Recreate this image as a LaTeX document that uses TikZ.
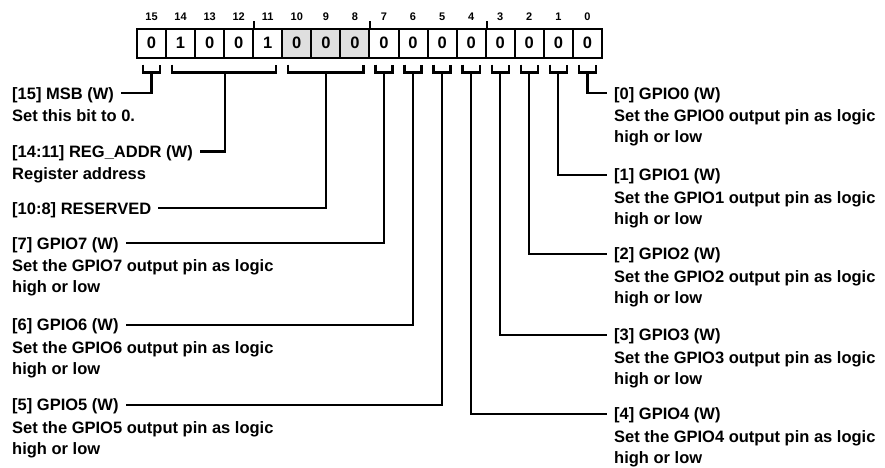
\documentclass[tikz,border=0pt]{standalone}
\usepackage{fontspec}
\setmainfont{Liberation Sans}
\begin{document}
\begin{tikzpicture}[x=1pt, y=1pt,
  bitbox/.style={draw, line width=2pt, minimum width=29.06pt, minimum height=29pt, inner sep=0pt, font=\fontsize{16.5}{18}\selectfont\bfseries},
  bitnum/.style={inner sep=0pt, font=\fontsize{11}{12}\selectfont\bfseries},
  ttl/.style={inner sep=0pt, text height=11.8pt, text depth=0pt, anchor=south west, font=\fontsize{16.5}{18}\selectfont\bfseries},
  desc/.style={inner sep=0pt, align=left, anchor=north west, font=\fontsize{16.5}{21}\selectfont\bfseries},
  wire/.style={line width=2.3pt}]
\useasboundingbox (0,0) rectangle (885,-467);
% register bits
\foreach \b/\v/\c in {15/0/white, 14/1/white, 13/0/white, 12/0/white, 11/1/white, 10/0/gray!25, 9/0/gray!25, 8/0/gray!25,
                      7/0/white, 6/0/white, 5/0/white, 4/0/white, 3/0/white, 2/0/white, 1/0/white, 0/0/white}{
  \node[bitbox, fill=\c] (b\b) at ({151.5+(15-\b)*29.06}, -43) {\v};
  \node[bitnum] (n\b) at ({151.5+(15-\b)*29.06}, -17) {\b};
}
\foreach \b in {12,8,4} \draw[line width=2pt] (b\b.north east) -- ++(0,7);
% brackets
\foreach \b in {15,7,6,5,4,3,2,1,0}{
  \draw[wire] ([shift={(7,-6)}]b\b.south west) -- ++(0,-8) -| ([shift={(-7,-6)}]b\b.south east);
  \coordinate (k\b) at ([yshift=-14]b\b.south);
}
\draw[wire] ([shift={(7,-6)}]b14.south west) -- ++(0,-8) -| ([shift={(-7,-6)}]b11.south east);
\coordinate (k14) at ([yshift=-14]b13.south east);
\draw[wire] ([shift={(7,-6)}]b10.south west) -- ++(0,-8) -| ([shift={(-7,-6)}]b8.south east);
\coordinate (k10) at ([yshift=-14]b9.south);
% left fields
\node[ttl] (t15) at (12,-99.2) {[15] MSB (W)};
\node[desc] (d15) at ([yshift=-10.2]t15.south west) {Set this bit to 0.};
\node[ttl] (t14) at (12,-157.6) {[14:11] REG\_ADDR (W)};
\node[desc] (d14) at ([yshift=-10.2]t14.south west) {Register address};
\node[ttl] (t10) at (12,-214.2) {[10:8] RESERVED};
\foreach \b/\y in {7/-249.2, 6/-330.9, 5/-410.9}{
  \node[ttl] (t\b) at (12,\y) {[\b] GPIO\b\ (W)};
  \node[desc] (d\b) at ([yshift=-10.2]t\b.south west) {Set the GPIO\b\ output pin as logic\\high or low};
}
% right fields
\foreach \b/\y in {0/-99.2, 1/-180.9, 2/-259.9, 3/-340.9, 4/-420}{
  \node[ttl] (t\b) at (614,\y) {[\b] GPIO\b\ (W)};
  \node[desc] (d\b) at ([yshift=-10.2]t\b.south west) {Set the GPIO\b\ output pin as logic\\high or low};
}
% connectors
\foreach \b in {15,14,10,7,6,5} \draw[wire] (k\b) |- ([xshift=7]t\b.east);
\foreach \b in {0,...,4} \draw[wire] (k\b) |- ([xshift=-7]t\b.west);
\end{tikzpicture}
\end{document}
